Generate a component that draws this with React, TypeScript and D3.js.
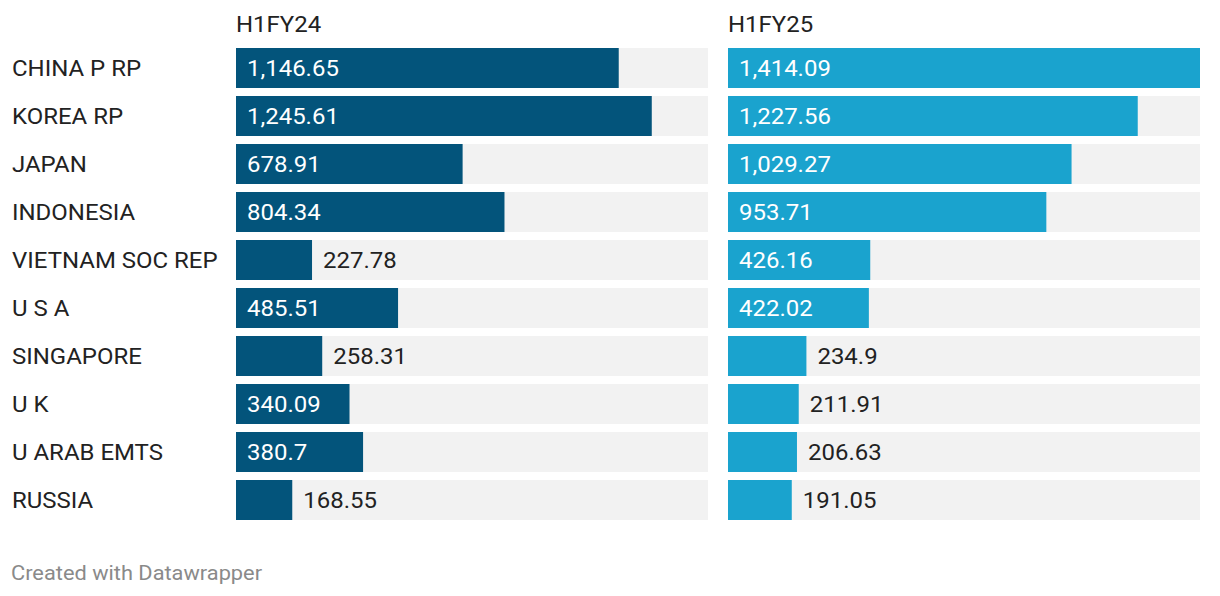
import React from 'react';
import * as d3 from 'd3';

const countries = ['CHINA P RP', 'KOREA RP', 'JAPAN', 'INDONESIA', 'VIETNAM SOC REP', 'U S A', 'SINGAPORE', 'U K', 'U ARAB EMTS', 'RUSSIA'];
const fy24 = [1146.65, 1245.61, 678.91, 804.34, 227.78, 485.51, 258.31, 340.09, 380.7, 168.55];
const fy25 = [1414.09, 1227.56, 1029.27, 953.71, 426.16, 422.02, 234.9, 211.91, 206.63, 191.05];
const panels = [
  { title: 'H1FY24', values: fy24, color: '#03547b' },
  { title: 'H1FY25', values: fy25, color: '#1aa3ce' },
];

const W = 1220, H = 596;
const margin = { left: 236, top: 48 };
const panelW = 472, panelGap = 20;
const rowStep = 48, barH = 40;
const font = 'Roboto, sans-serif';
const stretch = 1.09; // glyphs in the reference are a bit wider than plain Roboto

const fmt = (v: number) => {
  const [i, d] = v.toString().split('.');
  return d3.format(',')(+i) + (d ? '.' + d : '');
};

// rough Roboto width at 22px
const textW = (s: string) => {
  let w = 0;
  for (const c of s) w += c === '.' ? 5.8 : c === ',' ? 5.2 : 12.4;
  return w * stretch;
};

const T = ({ x, y, size = 22, fill = '#222', dy = '0', children }: any) => (
  <text transform={`translate(${x},${y}) scale(${stretch},1)`} dy={dy} fontSize={size} fill={fill}>{children}</text>
);

export default function App() {
  const maxV = d3.max([...fy24, ...fy25]) as number;
  const x = d3.scaleLinear().domain([0, maxV]).range([0, panelW]);
  const n = countries.length;
  const y = d3.scaleBand()
    .domain(countries)
    .range([margin.top, margin.top + rowStep * n - (rowStep - barH)])
    .paddingInner((rowStep - barH) / rowStep)
    .paddingOuter(0);
  const bw = y.bandwidth();

  return (
    <svg width={W} height={H} style={{ position: 'absolute', left: 0, top: 0, background: '#fff' }} fontFamily={font}>
      {countries.map(c => (
        <T key={c} x={12} y={(y(c) as number) + bw / 2} dy="0.36em">{c}</T>
      ))}
      {panels.map((p, pi) => {
        const x0 = margin.left + pi * (panelW + panelGap);
        return (
          <g key={p.title} transform={`translate(${x0},0)`}>
            <T x={0} y={32}>{p.title}</T>
            {countries.map((c, i) => {
              const v = p.values[i];
              const w = x(v);
              const label = fmt(v);
              const inside = textW(label) + 24 < w;
              const yy = y(c) as number;
              return (
                <g key={c}>
                  <rect x={0} y={yy} width={panelW} height={bw} fill="#f2f2f2" />
                  <rect x={0} y={yy} width={w} height={bw} fill={p.color} />
                  <T x={inside ? 11 : w + 11} y={yy + bw / 2} dy="0.36em" fill={inside ? '#fff' : '#222'}>{label}</T>
                </g>
              );
            })}
          </g>
        );
      })}
      <T x={11} y={580} size={20} fill="#8a8a8a">Created with Datawrapper</T>
    </svg>
  );
}
